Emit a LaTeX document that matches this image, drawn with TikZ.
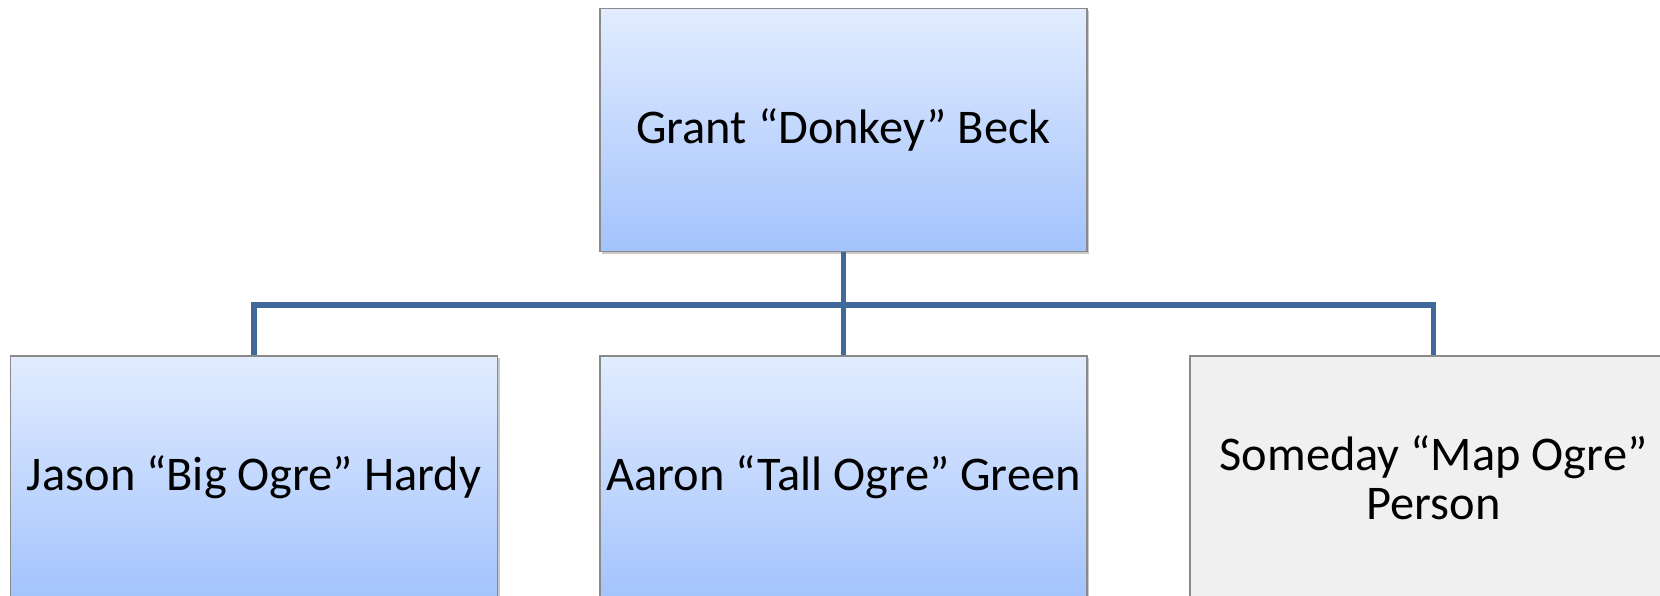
\documentclass[tikz,border=0pt]{standalone}
\usepackage{fontspec}
\setmainfont{Carlito}
\usetikzlibrary{shadows}
\definecolor{boxtop}{HTML}{E2ECFE}
\definecolor{boxbot}{HTML}{A3C3FD}
\definecolor{boxline}{HTML}{8A8A8A}
\definecolor{grayfill}{HTML}{F0F0F0}
\definecolor{connblue}{HTML}{41689A}
\tikzset{
  orgbox/.style={rectangle, draw=boxline, line width=0.6pt, minimum width=243.5pt, minimum height=121.5pt, inner sep=2pt, align=center,
    font=\fontsize{24.2}{24.5}\selectfont,
    drop shadow={shadow xshift=1.2pt, shadow yshift=-1.2pt, opacity=0.35, fill=black!60}},
  bluebox/.style={orgbox, top color=boxtop, bottom color=boxbot},
  graybox/.style={orgbox, fill=grayfill},
  conn/.style={draw=connblue, line width=2.7pt, line join=miter}
}
\begin{document}
\begin{tikzpicture}[x=0.5pt,y=-0.5pt]
\useasboundingbox (0,0) rectangle (1660,595);
\fill[white] (0,0) rectangle (1660,595);
\coordinate (bus) at (0,305);
\node[bluebox] (top) at (843.5,130) {Grant “Donkey” Beck};
\node[bluebox] (left) at (254,477.5) {Jason “Big Ogre” Hardy};
\node[bluebox] (mid) at (843.5,477.5) {Aaron “Tall Ogre” Green};
\node[graybox] (right) at (1433.5,477.5) {Someday “Map Ogre”\\Person};
\draw[conn] (left.north) -- (left.north |- bus) -- (right.north |- bus) -- (right.north);
\draw[conn] (top.south) -- (mid.north);
\end{tikzpicture}
\end{document}
